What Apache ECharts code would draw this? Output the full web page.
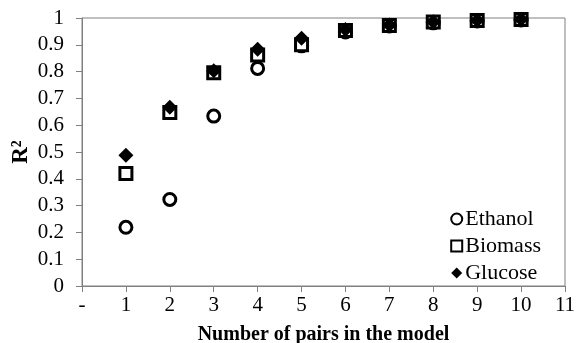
<!DOCTYPE html>
<html><head><meta charset="utf-8">
<script src="https://cdn.jsdelivr.net/npm/echarts@6/dist/echarts.min.js"></script>
<style>html,body{margin:0;padding:0;background:#fff}#c{width:576px;height:343px}</style>
</head><body><div id="c"></div>
<script>
const pairs = [1,2,3,4,5,6,7,8,9,10];
const ethanol = [0.219,0.323,0.634,0.812,0.896,0.948,0.970,0.982,0.989,0.993];
const biomass = [0.420,0.647,0.796,0.862,0.900,0.953,0.972,0.985,0.991,0.994];
const glucose = [0.488,0.667,0.803,0.883,0.924,0.957,0.974,0.986,0.992,0.995];
const xTickLabels = ['-','1','2','3','4','5','6','7','8','9','10','11'];
const yTicks = ['0','0.1','0.2','0.3','0.4','0.5','0.6','0.7','0.8','0.9','1'];

const font = 'Liberation Serif';
const toPts = arr => pairs.map((p,i)=>[p,arr[i]]);
const chart = echarts.init(document.getElementById('c'), null, {renderer:'canvas'});
chart.setOption({
  animation:false,
  grid:{left:82,right:11,top:18,bottom:57,show:true,borderColor:'#808080',borderWidth:1,
    containLabel:false,outerBoundsMode:'none'},
  xAxis:{type:'value',min:0,max:11,interval:1,
    name:'Number of pairs in the model',nameLocation:'middle',nameGap:39,nameMoveOverlap:false,
    nameTextStyle:{fontFamily:font,fontWeight:'bold',fontSize:20,color:'#000'},
    axisLine:{show:true,lineStyle:{color:'#808080'}},
    axisTick:{show:true,length:6,lineStyle:{color:'#808080'}},
    axisLabel:{fontFamily:font,fontSize:21,color:'#000',margin:9,formatter:v=>xTickLabels[Math.round(v)]},
    splitLine:{show:false}},
  yAxis:{type:'value',min:0,max:1,interval:0.1,
    name:'R²',nameLocation:'middle',nameGap:49,nameMoveOverlap:false,
    nameTextStyle:{fontFamily:font,fontWeight:'bold',fontSize:23,color:'#000'},
    axisLine:{show:true,lineStyle:{color:'#808080'}},
    axisTick:{show:true,length:6,lineStyle:{color:'#808080'}},
    axisLabel:{fontFamily:font,fontSize:21,color:'#000',margin:18,formatter:v=>yTicks[Math.round(v*10)]},
    splitLine:{show:false}},
  legend:{orient:'vertical',right:30,bottom:54,itemGap:5,itemWidth:11,itemHeight:11,
    textStyle:{fontFamily:font,fontSize:22,color:'#000',padding:[0,0,0,-2]},
    data:['Ethanol','Biomass','Glucose']},
  series:[
    {name:'Ethanol',type:'scatter',symbol:'circle',symbolSize:12,data:toPts(ethanol),
     itemStyle:{color:'#fff',borderColor:'#000',borderWidth:3,opacity:1}},
    {name:'Biomass',type:'scatter',symbol:'rect',symbolSize:12,data:toPts(biomass),
     itemStyle:{color:'#fff',borderColor:'#000',borderWidth:3,opacity:1}},
    {name:'Glucose',type:'scatter',symbol:'diamond',symbolSize:15,data:toPts(glucose),
     itemStyle:{color:'#000',opacity:1}}
  ]
});
</script></body></html>
